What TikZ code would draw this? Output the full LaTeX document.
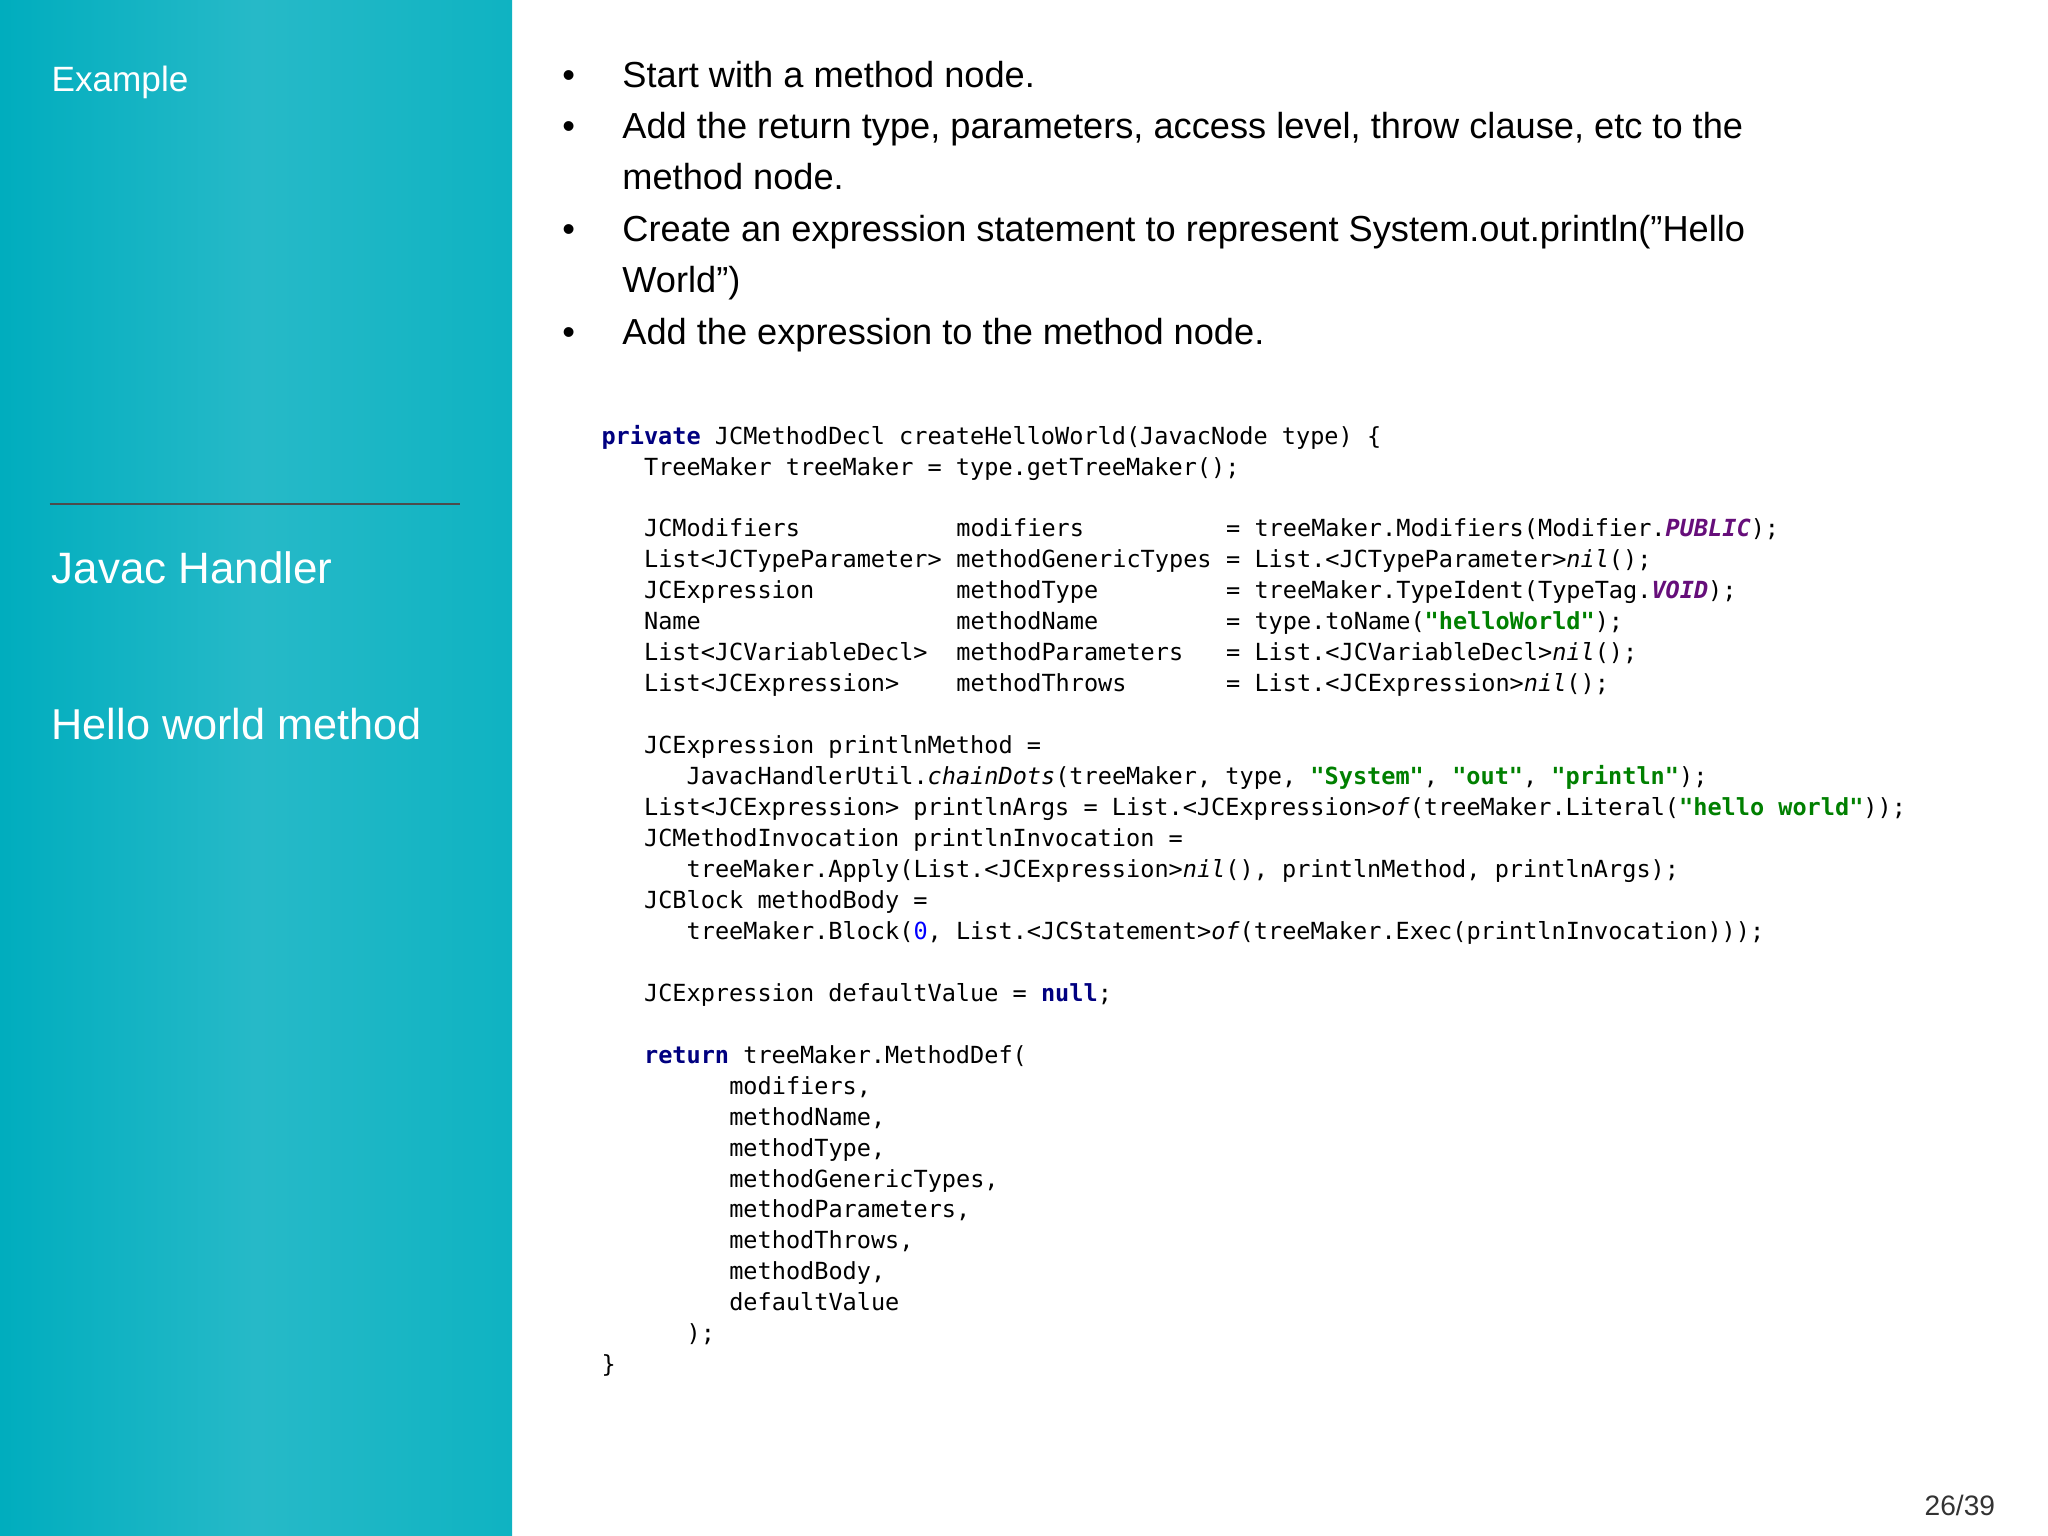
\documentclass[tikz,border=0pt]{standalone}
\usepackage{fontspec}
\setmainfont{Liberation Sans}
\setsansfont{Liberation Sans}
\setmonofont{DejaVu Sans Mono}
\definecolor{teal1}{HTML}{00ADBE}
\definecolor{teal2}{HTML}{0FB3C2}
\definecolor{kw}{HTML}{000080}
\definecolor{str}{HTML}{008000}
\definecolor{cst}{HTML}{660E7A}
\definecolor{num}{HTML}{0000FF}
\newcommand{\K}[1]{\textcolor{kw}{\textbf{#1}}}
\newcommand{\Str}[1]{\textcolor{str}{\textbf{#1}}}
\newcommand{\Cst}[1]{\textcolor{cst}{\textbf{\textit{#1}}}}
\newcommand{\It}[1]{\textit{#1}}
\newcommand{\Nm}[1]{\textcolor{num}{#1}}
\tikzset{
  code/.style={anchor=base west,inner sep=0pt,font=\ttfamily\fontsize{6.7}{8}\selectfont},
  bul/.style={anchor=base west,inner sep=0pt,font=\fontsize{10.3}{12}\selectfont},
  side/.style={anchor=base west,inner sep=0pt,text=white}
}
\newcommand{\cl}[4]{\node[code] (#1) at ({460+10.87*#2},{340+23.7*#3}) {#4};}
\begin{document}
\begin{tikzpicture}[x=0.01306cm,y=-0.01306cm]
\useasboundingbox (0,0) rectangle (1568,1176);
\fill[white] (0,0) rectangle (1568,1176);
\shade[left color=teal1,right color=teal2,middle color=teal1!85!white] (0,0) rectangle (392,1176);
\node[side,font=\fontsize{10}{12}\selectfont] (ex) at (39,70) {Example};
\draw[black!70,line width=0.6pt] (38,386) coordinate (la) -- (352,386) coordinate (lb);
\node[side,font=\fontsize{12.5}{14}\selectfont] (jh) at (39,447) {Javac Handler};
\node[side,font=\fontsize{12.3}{14}\selectfont] (hw) at (39,566) {Hello world method};
% bullets
\foreach \y/\n in {67/b1,106/b2,185/b3,264/b4} \node[bul] (\n) at (430,\y) {•};
\node[bul] (t1) at (476,67) {Start with a method node.};
\node[bul] (t2) at (476,106) {Add the return type, parameters, access level, throw clause, etc to the};
\node[bul] (t2b) at (476,145) {method node.};
\node[bul] (t3) at (476,185) {Create an expression statement to represent System.out.println("Hello};
\node[bul] (t3b) at (476,224) {World")};
\node[bul] (t4) at (476,264) {Add the expression to the method node.};
% code
\cl{c0}{0}{0}{\K{private} JCMethodDecl createHelloWorld(JavacNode type) \{}
\cl{c1}{3}{1}{TreeMaker treeMaker = type.getTreeMaker();}
\cl{c3a}{3}{3}{JCModifiers}
\cl{c3b}{25}{3}{modifiers}
\cl{c3c}{44}{3}{= treeMaker.Modifiers(Modifier.\Cst{PUBLIC});}
\cl{c4a}{3}{4}{List<JCTypeParameter>}
\cl{c4b}{25}{4}{methodGenericTypes}
\cl{c4c}{44}{4}{= List.<JCTypeParameter>\It{nil}();}
\cl{c5a}{3}{5}{JCExpression}
\cl{c5b}{25}{5}{methodType}
\cl{c5c}{44}{5}{= treeMaker.TypeIdent(TypeTag.\Cst{VOID});}
\cl{c6a}{3}{6}{Name}
\cl{c6b}{25}{6}{methodName}
\cl{c6c}{44}{6}{= type.toName(\Str{"helloWorld"});}
\cl{c7a}{3}{7}{List<JCVariableDecl>}
\cl{c7b}{25}{7}{methodParameters}
\cl{c7c}{44}{7}{= List.<JCVariableDecl>\It{nil}();}
\cl{c8a}{3}{8}{List<JCExpression>}
\cl{c8b}{25}{8}{methodThrows}
\cl{c8c}{44}{8}{= List.<JCExpression>\It{nil}();}
\cl{c10}{3}{10}{JCExpression printlnMethod =}
\cl{c11}{6}{11}{JavacHandlerUtil.\It{chainDots}(treeMaker, type, \Str{"System"}, \Str{"out"}, \Str{"println"});}
\cl{c12}{3}{12}{List<JCExpression> printlnArgs = List.<JCExpression>\It{of}(treeMaker.Literal(\Str{"hello world"}));}
\cl{c13}{3}{13}{JCMethodInvocation printlnInvocation =}
\cl{c14}{6}{14}{treeMaker.Apply(List.<JCExpression>\It{nil}(), printlnMethod, printlnArgs);}
\cl{c15}{3}{15}{JCBlock methodBody =}
\cl{c16}{6}{16}{treeMaker.Block(\Nm{0}, List.<JCStatement>\It{of}(treeMaker.Exec(printlnInvocation)));}
\cl{c18}{3}{18}{JCExpression defaultValue = \K{null};}
\cl{c20}{3}{20}{\K{return} treeMaker.MethodDef(}
\cl{c21}{9}{21}{modifiers,}
\cl{c22}{9}{22}{methodName,}
\cl{c23}{9}{23}{methodType,}
\cl{c24}{9}{24}{methodGenericTypes,}
\cl{c25}{9}{25}{methodParameters,}
\cl{c26}{9}{26}{methodThrows,}
\cl{c27}{9}{27}{methodBody,}
\cl{c28}{9}{28}{defaultValue}
\cl{c29}{6}{29}{);}
\cl{c30}{0}{30}{\}}
\node[anchor=base east,inner sep=0pt,font=\fontsize{8}{10}\selectfont,text=black!80] (pg) at (1528,1160) {26/39};
\end{tikzpicture}
\end{document}
